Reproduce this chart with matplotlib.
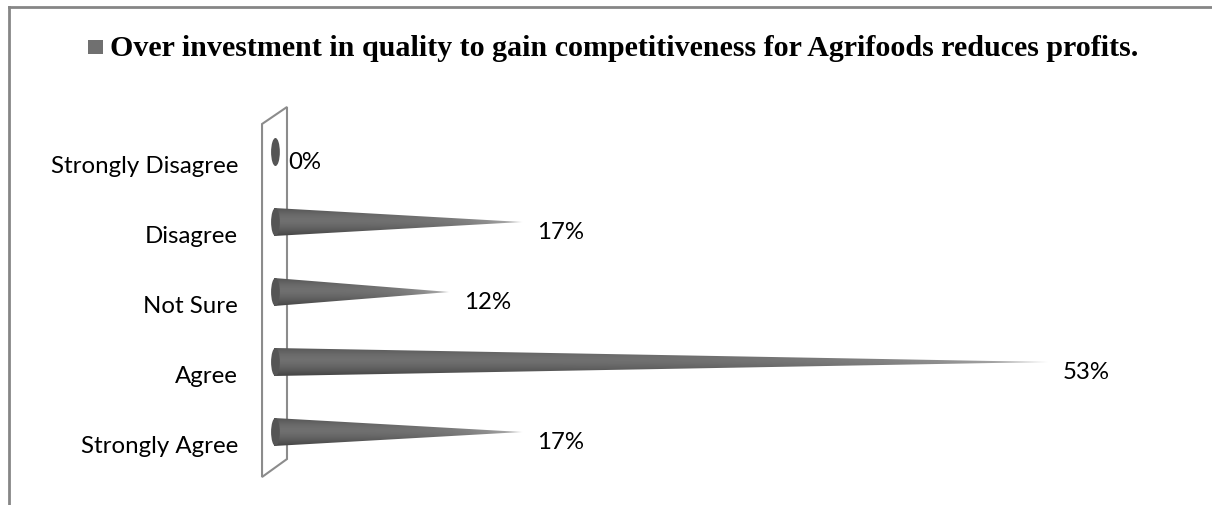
# cone bar chart: survey answers on over investment in quality

import matplotlib.pyplot as plt
import numpy as np
from matplotlib.patches import Polygon, Ellipse, Rectangle
from matplotlib.lines import Line2D

title = "Over investment in quality to gain competitiveness for Agrifoods reduces profits."
categories = ['Strongly Disagree', 'Disagree', 'Not Sure', 'Agree', 'Strongly Agree']
values = [0, 17, 12, 53, 17]
labels = ['0%', '17%', '12%', '53%', '17%']

W, H = 1212, 506
fig = plt.figure(figsize=(W / 100, H / 100), dpi=100)

# axes placed so 0% sits right behind the little wall
ax = fig.add_axes([274 / W, 38 / H, 938 / W, 350 / H])
ax.set_xlim(0, 938 / 14.6)
ax.set_ylim(len(categories) - 0.5, -0.5)
ax.axis('off')

# the back wall (thin parallelogram)
wall = Polygon([(-0.82, -0.40), (0.89, -0.643), (0.89, 4.386), (-0.82, 4.643)],
               closed=True, facecolor='white', edgecolor='#8c8c8c', lw=1.5,
               clip_on=False, zorder=1)
ax.add_patch(wall)

# vertical shading profile for the cones: dark rim, lighter middle
ny = 64
t = np.linspace(-1, 1, ny)
shade = 0.30 + 0.14 * (1 - np.abs(t + 0.15) ** 1.6)
half = 0.2

for i, v in enumerate(values):
    if v > 0:
        cone = Polygon([(0, i - half), (v, i), (0, i + half)], closed=True,
                       facecolor='none', edgecolor='none', clip_on=False)
        ax.add_patch(cone)
        nx = 200
        fade = np.linspace(0, 1, nx) ** 6
        img = shade[:, None] * (1 - fade[None, :]) + 0.75 * fade[None, :]
        im = ax.imshow(img, cmap='gray', vmin=0, vmax=1, aspect='auto',
                       extent=(0, v, i + half, i - half), interpolation='bilinear',
                       zorder=3)
        im.set_clip_path(cone)
    # rounded base of the cone
    base = Ellipse((0.1, i), 0.6, 2 * half, facecolor='#555555',
                   edgecolor='none', clip_on=False, zorder=4)
    ax.add_patch(base)
    ax.text(v + 1.0, i + 0.13, labels[i], ha='left', va='center',
            fontsize=17.3, family='Lato', color='black')
    ax.text(-2.47, i + 0.19, categories[i], ha='right', va='center',
            fontsize=17.3, family='Lato', color='black')

# legend-style title with square marker
fig.add_artist(Rectangle((88 / W, 1 - 55 / H), 15 / W, 14 / H,
                         transform=fig.transFigure, facecolor='#707070',
                         edgecolor='none'))
fig.text(110 / W, 1 - 48 / H, title, ha='left', va='center',
         fontsize=21.6, fontweight='bold', family='Liberation Serif')

# chart area border (only top and left visible)
fig.add_artist(Line2D([8.5 / W, 1], [1 - 7.5 / H, 1 - 7.5 / H],
                      transform=fig.transFigure, color='#868686', lw=2))
fig.add_artist(Line2D([8.5 / W, 8.5 / W], [0, 1 - 7.5 / H],
                      transform=fig.transFigure, color='#868686', lw=2))

plt.savefig('out.png', dpi=100)
plt.close()
